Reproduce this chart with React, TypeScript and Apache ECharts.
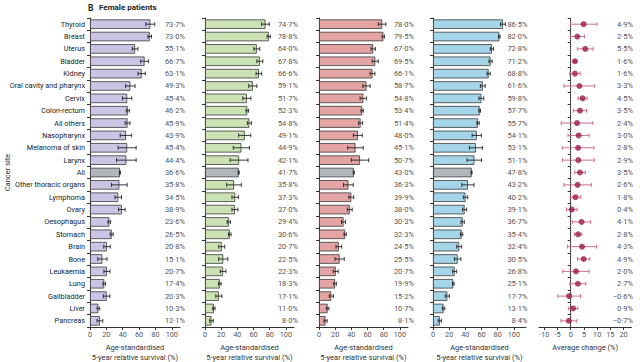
import { useEffect, useRef } from "react";
import * as echarts from "echarts";

const categories = [
  "Thyroid", "Breast", "Uterus", "Bladder", "Kidney", "Oral cavity and pharynx", "Cervix",
  "Colon-rectum", "All others", "Nasopharynx", "Melanoma of skin", "Larynx", "All",
  "Other thoracic organs", "Lymphoma", "Ovary", "Oesophagus", "Stomach", "Brain", "Bone",
  "Leukaemia", "Lung", "Gallbladder", "Liver", "Pancreas",
];

const survival1 = [73.7, 73.0, 55.1, 66.7, 63.1, 49.3, 45.4, 46.2, 45.9, 43.9, 45.4, 44.4, 36.6, 35.8, 34.5, 38.9, 23.6, 26.5, 20.8, 15.1, 20.7, 17.4, 20.3, 10.3, 12.1];
const ci1 = [5.5, 2.2, 3.5, 4.7, 4.5, 5.7, 5.7, 1.8, 2.9, 7, 11, 12, 0.6, 9.6, 4, 4, 1.6, 1.8, 4, 5.7, 3.7, 1.6, 4, 1.6, 3.5];

const survival2 = [74.7, 78.8, 64.0, 67.8, 66.6, 59.1, 51.7, 52.3, 54.8, 49.1, 44.9, 42.1, 41.7, 35.8, 37.3, 37.0, 29.4, 30.6, 20.7, 22.5, 22.3, 18.3, 17.1, 11.0, 8.0];
const ci2 = [4.7, 2, 3.7, 3.7, 3.5, 5, 5, 1.6, 2.5, 7.5, 10, 11, 0.6, 9, 4, 3.7, 2, 1.6, 3.7, 5.7, 3.5, 1.6, 3.7, 1.4, 2.2];

const survival3 = [78.0, 79.5, 67.0, 69.5, 66.1, 58.7, 54.8, 53.4, 51.4, 48.0, 45.1, 50.7, 43.0, 36.3, 39.9, 38.0, 30.3, 32.3, 24.5, 25.5, 20.7, 19.9, 15.2, 10.7, 8.1];
const ci3 = [4.7, 1.4, 2.7, 3.7, 3, 4.5, 4, 1.4, 2.5, 5.5, 9.6, 10.7, 0.6, 6, 3, 3, 2.5, 1.4, 3.5, 5.7, 3, 1.6, 2.5, 1.6, 2];

const survival4 = [86.5, 82.0, 72.8, 71.2, 68.8, 61.6, 59.8, 57.7, 55.7, 54.1, 53.1, 51.1, 47.8, 43.2, 40.2, 39.1, 36.7, 35.4, 32.4, 30.5, 26.8, 25.1, 17.7, 13.1, 8.4];
const ci4 = [3, 1, 2, 2, 2, 3, 3, 1, 1.5, 5.7, 8, 9, 0.5, 7.5, 2.7, 2.5, 2, 1.4, 3, 4, 2.5, 1, 2.5, 1.5, 2];

const change = [4.9, 2.5, 5.5, 1.6, 1.6, 3.3, 4.5, 3.5, 2.4, 3.0, 2.8, 2.9, 3.5, 2.6, 1.8, 0.4, 4.1, 2.8, 4.3, 4.9, 2.0, 2.7, -0.6, 0.9, -0.7];
const changeCi = [5, 2.7, 3, 0.5, 2, 5.8, 1.7, 2.5, 6, 4, 6, 6, 2, 5.2, 2, 2, 3.5, 1.4, 5.5, 2.3, 5, 3, 4.3, 1.8, 3];

const barTicks = [0, 20, 40, 60, 80, 100];
const changeTicks = [-10, -5, 0, 5, 10, 15, 20];

const panelColors = ["#ccc4e4", "#cbe3b4", "#e4a4a4", "#a4d5e9"];
const allColor = "#b2b6b8";
const dotColor = "#9c1c47";
const errColor = "#c8607f";

const FONT = "Roboto, 'Liberation Sans', sans-serif";
const SIZE = { cat: 7.3, name: 7.5, tick: 7.3, val: 7.5, title: 8 };

const fmt = (v: number) => (v < 0 ? "\u2212" : "") + Math.abs(v).toFixed(1).replace(".", "\u00b7") + "%";

export default function App() {
  const ref = useRef<HTMLDivElement>(null);
  useEffect(() => {
    if (!ref.current) return;
    const chart = echarts.init(ref.current, null, { renderer: "svg" });
    const top = 18;
    const height = 309;
    const gridDefs = [
      { left: 90, width: 90, max: 110 },
      { left: 205, width: 89, max: 110 },
      { left: 319, width: 89, max: 110 },
      { left: 433, width: 93, max: 115 },
      { left: 539, width: 92.5, max: 23 },
    ];
    const labelMargins = [5, 4, 6, 1.5, 1.5];
    const survivals = [survival1, survival2, survival3, survival4];
    const cis = [ci1, ci2, ci3, ci4];

    const grid = gridDefs.map((g) => ({
      left: g.left,
      top,
      width: g.width,
      height,
      containLabel: false,
      outerBoundsMode: "none",
    }));

    const xAxis: any[] = gridDefs.map((g, i) => {
      const isChange = i === 4;
      const ticks = isChange ? changeTicks : barTicks;
      return {
        type: "value",
        gridIndex: i,
        min: isChange ? -12 : 0,
        max: g.max,
        axisLine: { show: true, lineStyle: { color: "#333", width: 1 } },
        axisTick: { show: true, length: 3, customValues: ticks, lineStyle: { color: "#333" } },
        axisLabel: { show: true, customValues: ticks, fontSize: SIZE.tick, color: "#555", margin: 4, fontFamily: FONT },
        splitLine: { show: false },
        name: isChange ? "Average change (%)" : "Age-standardised\n5-year relative survival (%)",
        nameLocation: "middle",
        nameGap: isChange ? 13 : 12,
        nameTextStyle: { fontSize: SIZE.name, color: "#333", lineHeight: 10, fontFamily: FONT },
      };
    });

    const yAxis: any[] = [];
    gridDefs.forEach((_, i) => {
      yAxis.push({
        type: "category",
        gridIndex: i,
        data: categories,
        inverse: true,
        axisLine: { show: true, lineStyle: { color: "#333", width: 1 } },
        axisTick: { show: true, length: 3, lineStyle: { color: "#333" } },
        axisLabel: { show: i === 0, fontSize: SIZE.cat, color: "#222", margin: 5, fontFamily: FONT },
        name: i === 0 ? "Cancer site" : "",
        nameLocation: "middle",
        nameGap: 79,
        nameMoveOverlap: false,
        nameTextStyle: { fontSize: SIZE.name, color: "#333", fontFamily: FONT },
      });
      const vals = i < 4 ? survivals[i] : change;
      yAxis.push({
        type: "category",
        gridIndex: i,
        position: "right",
        data: vals.map(fmt),
        inverse: true,
        axisLine: { show: false },
        axisTick: { show: false },
        axisLabel: { show: true, align: "right", fontSize: SIZE.val, color: "#555", margin: labelMargins[i], fontFamily: FONT },
      });
    });

    const errRender = (color: string, width: number, cap: number) => (params: any, api: any) => {
      const lo = api.coord([api.value(0), api.value(2)]);
      const hi = api.coord([api.value(1), api.value(2)]);
      const style = { stroke: color, lineWidth: width };
      return {
        type: "group",
        children: [
          { type: "line", shape: { x1: lo[0], y1: lo[1], x2: hi[0], y2: hi[1] }, style },
          { type: "line", shape: { x1: lo[0], y1: lo[1] - cap, x2: lo[0], y2: lo[1] + cap }, style },
          { type: "line", shape: { x1: hi[0], y1: hi[1] - cap, x2: hi[0], y2: hi[1] + cap }, style },
        ],
      };
    };

    const series: any[] = [];
    survivals.forEach((vals, i) => {
      series.push({
        type: "bar",
        xAxisIndex: i,
        yAxisIndex: i * 2,
        barWidth: 9.5,
        data: vals.map((v, k) => ({
          value: v,
          itemStyle: { color: categories[k] === "All" ? allColor : panelColors[i] },
        })),
        itemStyle: { borderColor: "#3a3a3a", borderWidth: 0.8 },
      });
      series.push({
        type: "custom",
        xAxisIndex: i,
        yAxisIndex: i * 2,
        renderItem: errRender("#222", 0.9, 2),
        encode: { x: [0, 1], y: 2 },
        data: vals.map((v, k) => [v - cis[i][k], v + cis[i][k], k]),
        z: 5,
      });
    });
    series.push({
      type: "custom",
      xAxisIndex: 4,
      yAxisIndex: 8,
      silent: true,
      renderItem: (params: any, api: any) => {
        const cs = params.coordSys;
        const x = api.coord([api.value(0), 0])[0];
        return {
          type: "line",
          shape: { x1: x, y1: cs.y, x2: x, y2: cs.y + cs.height },
          style: { stroke: "#8a8a8a", lineWidth: 1, lineDash: [1.2, 1.8] },
        };
      },
      encode: { x: 0, y: 1 },
      data: [[0, 0]],
      z: 1,
    });
    series.push({
      type: "custom",
      xAxisIndex: 4,
      yAxisIndex: 8,
      renderItem: errRender(errColor, 0.9, 2),
      encode: { x: [0, 1], y: 2 },
      data: change.map((v, k) => [v - changeCi[k], v + changeCi[k], k]),
      z: 3,
    });
    series.push({
      type: "scatter",
      xAxisIndex: 4,
      yAxisIndex: 8,
      symbolSize: 6,
      itemStyle: { color: dotColor },
      data: change.map((v, k) => [v, k]),
      z: 6,
    });

    chart.setOption({
      animation: false,
      textStyle: { fontFamily: FONT },
      grid,
      xAxis,
      yAxis,
      series,
      graphic: [
        { type: "text", left: 88, top: 3, style: { text: "B", fontSize: SIZE.title + 0.5, fontWeight: "bold", fill: "#222", fontFamily: FONT } },
        { type: "text", left: 99, top: 3.5, style: { text: "Female patients", fontSize: SIZE.title, fontWeight: "bold", fill: "#222", fontFamily: FONT } },
      ],
    });
    return () => chart.dispose();
  }, []);
  return <div ref={ref} style={{ position: "fixed", left: 0, top: 0, width: 640, height: 362, background: "#fff" }} />;
}
